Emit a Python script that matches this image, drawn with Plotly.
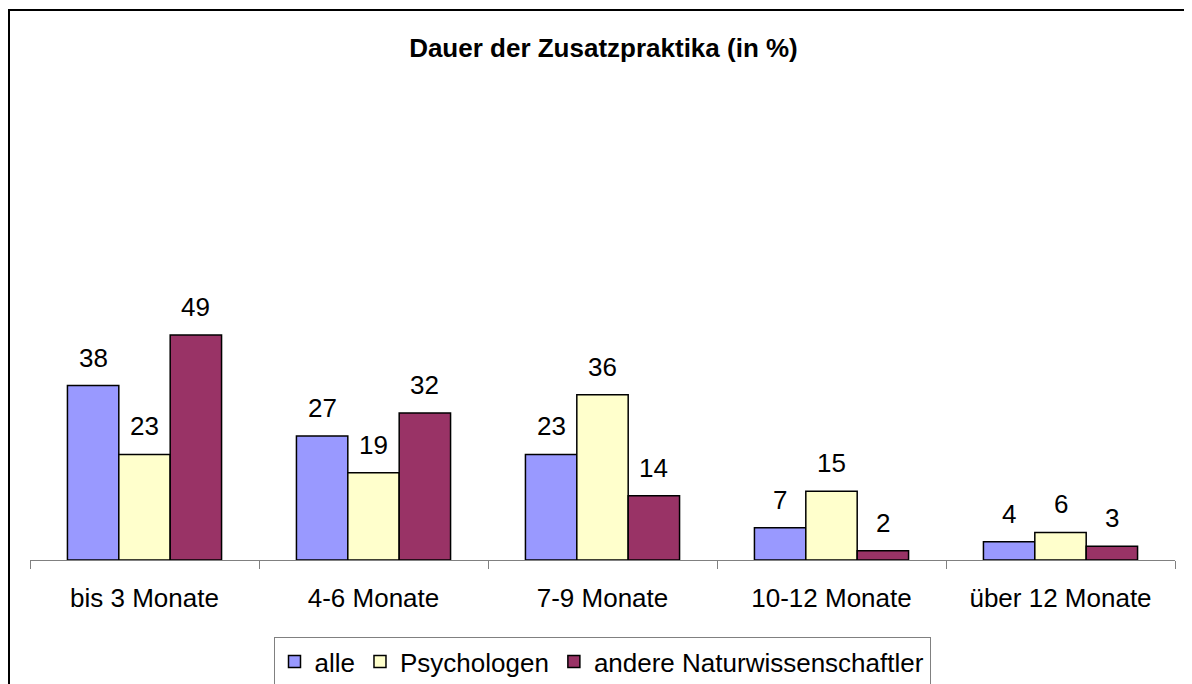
import plotly.graph_objects as go

categories = ["bis 3 Monate", "4-6 Monate", "7-9 Monate", "10-12 Monate", "über 12 Monate"]
series_names = ["alle", "Psychologen", "andere Naturwissenschaftler"]
alle = [38, 27, 23, 7, 4]
psychologen = [23, 19, 36, 15, 6]
andere = [49, 32, 14, 2, 3]
colors = ["#9999FF", "#FFFFCC", "#993366"]

OFF = 8  # default page margin of the html body
W, H = 1192 - OFF, 684 - OFF
ml, mt = 30 - OFF, 101 - OFF
plot_w = 1145
plot_h = 459
mr = W - ml - plot_w
mb = H - mt - plot_h
bargap = 0.327
bar_px = plot_w / len(categories) * (1 - bargap) / 3
FONT = "Liberation Sans, Arial, sans-serif"

fig = go.Figure()
all_series = [alle, psychologen, andere]
for name, vals, col in zip(series_names, all_series, colors):
    fig.add_trace(go.Bar(
        x=categories, y=vals, name=name,
        marker=dict(color=col, line=dict(color="black", width=1.5)),
    ))

annotations = []
for i, vals in enumerate(all_series):
    for c, v in zip(categories, vals):
        annotations.append(dict(
            x=c, y=v, xref="x", yref="y", text=str(v), showarrow=False,
            yanchor="bottom", xanchor="center", yshift=11,
            xshift=(i - 1) * bar_px,
            font=dict(family=FONT, size=26, color="black"),
        ))

def px_x(px):
    return (px - OFF - ml) / plot_w

def px_y(py):
    return (mt + plot_h - (py - OFF)) / plot_h

fig.update_layout(
    width=W, height=H,
    margin=dict(l=ml, r=mr, t=mt, b=mb, autoexpand=False),
    paper_bgcolor="white", plot_bgcolor="white",
    barmode="group", bargap=bargap, bargroupgap=0,
    font=dict(family=FONT, size=26, color="black"),
    title=dict(text="<b>Dauer der Zusatzpraktika (in %)</b>", x=(601 - OFF) / W,
               xanchor="center", xref="paper",
               y=1 - (48 - OFF) / H, yanchor="middle",
               font=dict(family=FONT, size=26, color="black")),
    xaxis=dict(showline=True, linecolor="#808080", linewidth=1,
               ticks="outside", tickson="boundaries", ticklen=8, tickcolor="#808080",
               tickfont=dict(size=26), ticklabelstandoff=15, showgrid=False),
    yaxis=dict(range=[0, 100], visible=False, showgrid=False, zeroline=False),
    showlegend=True,
    legend=dict(orientation="h", x=px_x(602), xanchor="center",
                y=px_y(637), yanchor="top",
                bordercolor="#808080", borderwidth=1, bgcolor="white",
                font=dict(size=26), itemwidth=30, tracegroupgap=0),
    annotations=annotations,
    shapes=[dict(type="rect", xref="paper", yref="paper",
                 x0=px_x(9), x1=px_x(1192 + 20),
                 y0=px_y(684 + 20), y1=px_y(10),
                 line=dict(color="black", width=2), fillcolor="rgba(0,0,0,0)", layer="below")],
)

fig.write_html("out.html")
